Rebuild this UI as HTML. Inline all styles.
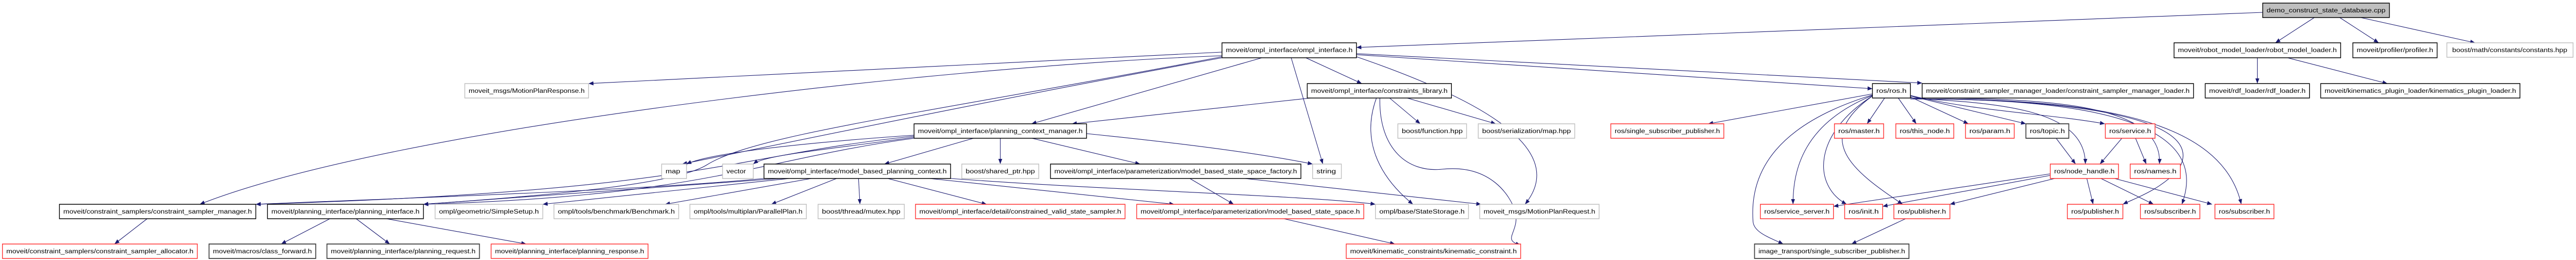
<!DOCTYPE html>
<html><head><meta charset="utf-8">
<style>
html,body{margin:0;padding:0;background:#fff;width:100%;height:100%;overflow:hidden;}
svg{display:block;position:absolute;left:0;top:0;width:100vw;height:100vh;}
text{font-family:"Liberation Sans",sans-serif;font-size:12px;fill:#000;}
.B{fill:#fff;stroke:#000;stroke-width:1.5}
.G{fill:#fff;stroke:#bfbfbf;stroke-width:1.5}
.R{fill:#fff;stroke:#ff3030;stroke-width:1.5}
.D{fill:#fff;stroke:#404040;stroke-width:1.8}
.F{fill:#bfbfbf;stroke:#000;stroke-width:1.5}
path.e{fill:none;stroke:#191970;stroke-width:1.1}
</style></head><body>
<svg viewBox="0 0 5287 504" preserveAspectRatio="none" xmlns="http://www.w3.org/2000/svg">
<defs><marker id="a" markerUnits="userSpaceOnUse" markerWidth="10" markerHeight="8" refX="10" refY="4" orient="auto"><path d="M0,0 L10,4 L0,8 z" fill="#191970"/></marker></defs>
<g marker-end="url(#a)">
<path class="e" d="M4644,24 L2784,92"/>
<path class="e" d="M4750,34 L4670,83"/>
<path class="e" d="M4802,34 L4882,83"/>
<path class="e" d="M4845,34 L5080,83"/>
<path class="e" d="M4633,112 L4633,162"/>
<path class="e" d="M4695,112 L4900,162"/>
<path class="e" d="M2508,101 L1208,162"/>
<path class="e" d="M2508,108 C1900,130 800,250 410,396"/>
<path class="e" d="M2508,110 C1900,220 1550,260 1450,320 C1380,360 1100,380 869,396"/>
<path class="e" d="M2508,112 C2000,200 1600,280 1400,318"/>
<path class="e" d="M2590,112 L2117,240"/>
<path class="e" d="M2650,112 L2715,318"/>
<path class="e" d="M2680,112 L2795,162"/>
<path class="e" d="M2784,110 C3000,180 3230,280 3130,396"/>
<path class="e" d="M2784,106 L3843,172"/>
<path class="e" d="M2784,104 L3945,161"/>
<path class="e" d="M2690,190 L2200,240"/>
<path class="e" d="M2852,190 L2915,240"/>
<path class="e" d="M2888,190 L3070,240"/>
<path class="e" d="M2825,190 C2790,280 2840,350 2900,396"/>
<path class="e" d="M2832,190 C2830,290 2890,335 2960,328 C3060,318 3100,380 3110,410 C3120,450 3080,465 3121,475"/>
<path class="e" d="M1876,262 C1600,280 1450,300 1409,318"/>
<path class="e" d="M1876,266 C1700,290 1570,300 1546,318"/>
<path class="e" d="M1998,268 L1815,318"/>
<path class="e" d="M2053,268 L2053,318"/>
<path class="e" d="M2118,268 L2340,318"/>
<path class="e" d="M2230,259 C2450,280 2600,300 2694,318"/>
<path class="e" d="M1876,264 C1500,300 1450,370 525,396"/>
<path class="e" d="M1876,268 C1550,310 1450,380 869,396"/>
<path class="e" d="M1568,346 C1300,370 800,385 525,396"/>
<path class="e" d="M1600,346 L869,396"/>
<path class="e" d="M1620,346 L1114,396"/>
<path class="e" d="M1665,346 L1365,396"/>
<path class="e" d="M1717,346 L1583,396"/>
<path class="e" d="M1762,346 L1765,396"/>
<path class="e" d="M1822,346 L2025,396"/>
<path class="e" d="M1908,346 L2410,396"/>
<path class="e" d="M1951,346 C2300,370 2700,380 2823,396"/>
<path class="e" d="M2555,346 L3040,396"/>
<path class="e" d="M2442,346 L2532,396"/>
<path class="e" d="M2635,424 L2863,473"/>
<path class="e" d="M302,424 L235,473"/>
<path class="e" d="M677,424 L577,473"/>
<path class="e" d="M731,424 L800,473"/>
<path class="e" d="M793,424 L1080,473"/>
<path class="e" d="M3843,182 L3506,240"/>
<path class="e" d="M3868,190 L3832,240"/>
<path class="e" d="M3896,190 L3933,240"/>
<path class="e" d="M3921,188 L4040,240"/>
<path class="e" d="M3921,186 L4158,240"/>
<path class="e" d="M3921,185 C4050,215 4200,220 4320,240"/>
<path class="e" d="M3921,190 C4100,200 4280,210 4280,318"/>
<path class="e" d="M3921,190 C4200,190 4440,200 4432,318"/>
<path class="e" d="M3921,192 C4250,190 4540,230 4470,330 C4430,370 4380,385 4357,396"/>
<path class="e" d="M3921,192 C4300,190 4540,240 4478,396"/>
<path class="e" d="M3921,192 C4300,190 4560,230 4600,396"/>
<path class="e" d="M3843,185 C3700,240 3680,330 3680,396"/>
<path class="e" d="M3843,186 C3720,260 3720,360 3790,396"/>
<path class="e" d="M3843,186 C3720,270 3800,330 3905,396"/>
<path class="e" d="M3843,184 C3650,240 3590,330 3598,430 C3600,450 3630,460 3660,473"/>
<path class="e" d="M4220,268 L4260,318"/>
<path class="e" d="M4355,268 L4310,318"/>
<path class="e" d="M4383,268 L4405,318"/>
<path class="e" d="M4208,337 L3763,400"/>
<path class="e" d="M4208,340 L3864,400"/>
<path class="e" d="M4217,346 L4002,396"/>
<path class="e" d="M4283,346 L4296,396"/>
<path class="e" d="M4312,346 L4420,396"/>
<path class="e" d="M4340,346 L4540,396"/>
<path class="e" d="M3911,424 L3800,473"/>
</g>
<g>
<rect class="F" x="4644" y="6" width="260" height="28"/><text x="4652" y="24" textLength="244" lengthAdjust="spacingAndGlyphs">demo_construct_state_database.cpp</text>
<rect class="B" x="2508" y="83" width="276" height="29"/><text x="2516" y="101" textLength="260" lengthAdjust="spacingAndGlyphs">moveit/ompl_interface/ompl_interface.h</text>
<rect class="B" x="4462" y="83" width="342" height="29"/><text x="4470" y="101" textLength="326" lengthAdjust="spacingAndGlyphs">moveit/robot_model_loader/robot_model_loader.h</text>
<rect class="B" x="4829" y="83" width="173" height="29"/><text x="4837" y="101" textLength="157" lengthAdjust="spacingAndGlyphs">moveit/profiler/profiler.h</text>
<rect class="G" x="5022" y="83" width="259" height="28"/><text x="5033" y="101" textLength="236" lengthAdjust="spacingAndGlyphs">boost/math/constants/constants.hpp</text>
<rect class="G" x="954" y="162" width="254" height="28"/><text x="962" y="180" textLength="238" lengthAdjust="spacingAndGlyphs">moveit_msgs/MotionPlanResponse.h</text>
<rect class="B" x="2683" y="162" width="296" height="28"/><text x="2691" y="180" textLength="280" lengthAdjust="spacingAndGlyphs">moveit/ompl_interface/constraints_library.h</text>
<rect class="B" x="3843" y="162" width="78" height="28"/><text x="3851" y="180" textLength="62" lengthAdjust="spacingAndGlyphs">ros/ros.h</text>
<rect class="B" x="3945" y="162" width="557" height="28"/><text x="3953" y="180" textLength="541" lengthAdjust="spacingAndGlyphs">moveit/constraint_sampler_manager_loader/constraint_sampler_manager_loader.h</text>
<rect class="B" x="4526" y="162" width="214" height="28"/><text x="4534" y="180" textLength="198" lengthAdjust="spacingAndGlyphs">moveit/rdf_loader/rdf_loader.h</text>
<rect class="B" x="4763" y="162" width="409" height="28"/><text x="4771" y="180" textLength="393" lengthAdjust="spacingAndGlyphs">moveit/kinematics_plugin_loader/kinematics_plugin_loader.h</text>
<rect class="B" x="1876" y="240" width="354" height="28"/><text x="1884" y="258" textLength="338" lengthAdjust="spacingAndGlyphs">moveit/ompl_interface/planning_context_manager.h</text>
<rect class="G" x="2869" y="240" width="141" height="28"/><text x="2877" y="258" textLength="125" lengthAdjust="spacingAndGlyphs">boost/function.hpp</text>
<rect class="G" x="3034" y="240" width="198" height="28"/><text x="3042" y="258" textLength="182" lengthAdjust="spacingAndGlyphs">boost/serialization/map.hpp</text>
<rect class="R" x="3306" y="240" width="232" height="28"/><text x="3314" y="258" textLength="216" lengthAdjust="spacingAndGlyphs">ros/single_subscriber_publisher.h</text>
<rect class="R" x="3765" y="240" width="101" height="28"/><text x="3773" y="258" textLength="85" lengthAdjust="spacingAndGlyphs">ros/master.h</text>
<rect class="R" x="3891" y="240" width="119" height="28"/><text x="3899" y="258" textLength="103" lengthAdjust="spacingAndGlyphs">ros/this_node.h</text>
<rect class="R" x="4034" y="240" width="100" height="28"/><text x="4042" y="258" textLength="84" lengthAdjust="spacingAndGlyphs">ros/param.h</text>
<rect class="D" x="4158" y="240" width="88" height="28"/><text x="4166" y="258" textLength="72" lengthAdjust="spacingAndGlyphs">ros/topic.h</text>
<rect class="R" x="4321" y="240" width="102" height="28"/><text x="4329" y="258" textLength="86" lengthAdjust="spacingAndGlyphs">ros/service.h</text>
<rect class="G" x="1358" y="318" width="51" height="28"/><text x="1366" y="336" textLength="30" lengthAdjust="spacingAndGlyphs">map</text>
<rect class="G" x="1483" y="318" width="63" height="28"/><text x="1491" y="336" textLength="40" lengthAdjust="spacingAndGlyphs">vector</text>
<rect class="B" x="1568" y="318" width="383" height="28"/><text x="1576" y="336" textLength="367" lengthAdjust="spacingAndGlyphs">moveit/ompl_interface/model_based_planning_context.h</text>
<rect class="G" x="1974" y="318" width="158" height="28"/><text x="1982" y="336" textLength="142" lengthAdjust="spacingAndGlyphs">boost/shared_ptr.hpp</text>
<rect class="B" x="2156" y="318" width="514" height="28"/><text x="2164" y="336" textLength="498" lengthAdjust="spacingAndGlyphs">moveit/ompl_interface/parameterization/model_based_state_space_factory.h</text>
<rect class="G" x="2694" y="318" width="59" height="28"/><text x="2702" y="336" textLength="40" lengthAdjust="spacingAndGlyphs">string</text>
<rect class="R" x="4208" y="318" width="140" height="28"/><text x="4216" y="336" textLength="124" lengthAdjust="spacingAndGlyphs">ros/node_handle.h</text>
<rect class="R" x="4372" y="318" width="103" height="28"/><text x="4380" y="336" textLength="87" lengthAdjust="spacingAndGlyphs">ros/names.h</text>
<rect class="B" x="122" y="396" width="403" height="28"/><text x="130" y="414" textLength="387" lengthAdjust="spacingAndGlyphs">moveit/constraint_samplers/constraint_sampler_manager.h</text>
<rect class="B" x="549" y="396" width="320" height="28"/><text x="557" y="414" textLength="304" lengthAdjust="spacingAndGlyphs">moveit/planning_interface/planning_interface.h</text>
<rect class="G" x="893" y="396" width="221" height="28"/><text x="901" y="414" textLength="205" lengthAdjust="spacingAndGlyphs">ompl/geometric/SimpleSetup.h</text>
<rect class="G" x="1137" y="396" width="256" height="28"/><text x="1145" y="414" textLength="240" lengthAdjust="spacingAndGlyphs">ompl/tools/benchmark/Benchmark.h</text>
<rect class="G" x="1416" y="396" width="239" height="28"/><text x="1424" y="414" textLength="223" lengthAdjust="spacingAndGlyphs">ompl/tools/multiplan/ParallelPlan.h</text>
<rect class="G" x="1679" y="396" width="177" height="28"/><text x="1687" y="414" textLength="161" lengthAdjust="spacingAndGlyphs">boost/thread/mutex.hpp</text>
<rect class="R" x="1879" y="396" width="430" height="28"/><text x="1887" y="414" textLength="414" lengthAdjust="spacingAndGlyphs">moveit/ompl_interface/detail/constrained_valid_state_sampler.h</text>
<rect class="R" x="2333" y="396" width="466" height="28"/><text x="2341" y="414" textLength="450" lengthAdjust="spacingAndGlyphs">moveit/ompl_interface/parameterization/model_based_state_space.h</text>
<rect class="G" x="2823" y="396" width="191" height="28"/><text x="2831" y="414" textLength="175" lengthAdjust="spacingAndGlyphs">ompl/base/StateStorage.h</text>
<rect class="G" x="3037" y="396" width="245" height="28"/><text x="3045" y="414" textLength="229" lengthAdjust="spacingAndGlyphs">moveit_msgs/MotionPlanRequest.h</text>
<rect class="R" x="3613" y="396" width="150" height="28"/><text x="3621" y="414" textLength="134" lengthAdjust="spacingAndGlyphs">ros/service_server.h</text>
<rect class="R" x="3786" y="396" width="78" height="28"/><text x="3794" y="414" textLength="62" lengthAdjust="spacingAndGlyphs">ros/init.h</text>
<rect class="R" x="3887" y="396" width="115" height="28"/><text x="3895" y="414" textLength="99" lengthAdjust="spacingAndGlyphs">ros/publisher.h</text>
<rect class="R" x="4243" y="396" width="114" height="28"/><text x="4251" y="414" textLength="98" lengthAdjust="spacingAndGlyphs">ros/publisher.h</text>
<rect class="R" x="4393" y="396" width="122" height="28"/><text x="4401" y="414" textLength="106" lengthAdjust="spacingAndGlyphs">ros/subscriber.h</text>
<rect class="R" x="4546" y="396" width="121" height="28"/><text x="4554" y="414" textLength="105" lengthAdjust="spacingAndGlyphs">ros/subscriber.h</text>
<rect class="R" x="5" y="473" width="400" height="28"/><text x="13" y="491" textLength="384" lengthAdjust="spacingAndGlyphs">moveit/constraint_samplers/constraint_sampler_allocator.h</text>
<rect class="D" x="429" y="473" width="219" height="28"/><text x="437" y="491" textLength="203" lengthAdjust="spacingAndGlyphs">moveit/macros/class_forward.h</text>
<rect class="D" x="671" y="473" width="313" height="28"/><text x="679" y="491" textLength="297" lengthAdjust="spacingAndGlyphs">moveit/planning_interface/planning_request.h</text>
<rect class="R" x="1008" y="473" width="322" height="28"/><text x="1016" y="491" textLength="306" lengthAdjust="spacingAndGlyphs">moveit/planning_interface/planning_response.h</text>
<rect class="R" x="2763" y="473" width="358" height="28"/><text x="2771" y="491" textLength="342" lengthAdjust="spacingAndGlyphs">moveit/kinematic_constraints/kinematic_constraint.h</text>
<rect class="D" x="3601" y="473" width="317" height="28"/><text x="3609" y="491" textLength="301" lengthAdjust="spacingAndGlyphs">image_transport/single_subscriber_publisher.h</text>
</g>
</svg>
</body></html>
